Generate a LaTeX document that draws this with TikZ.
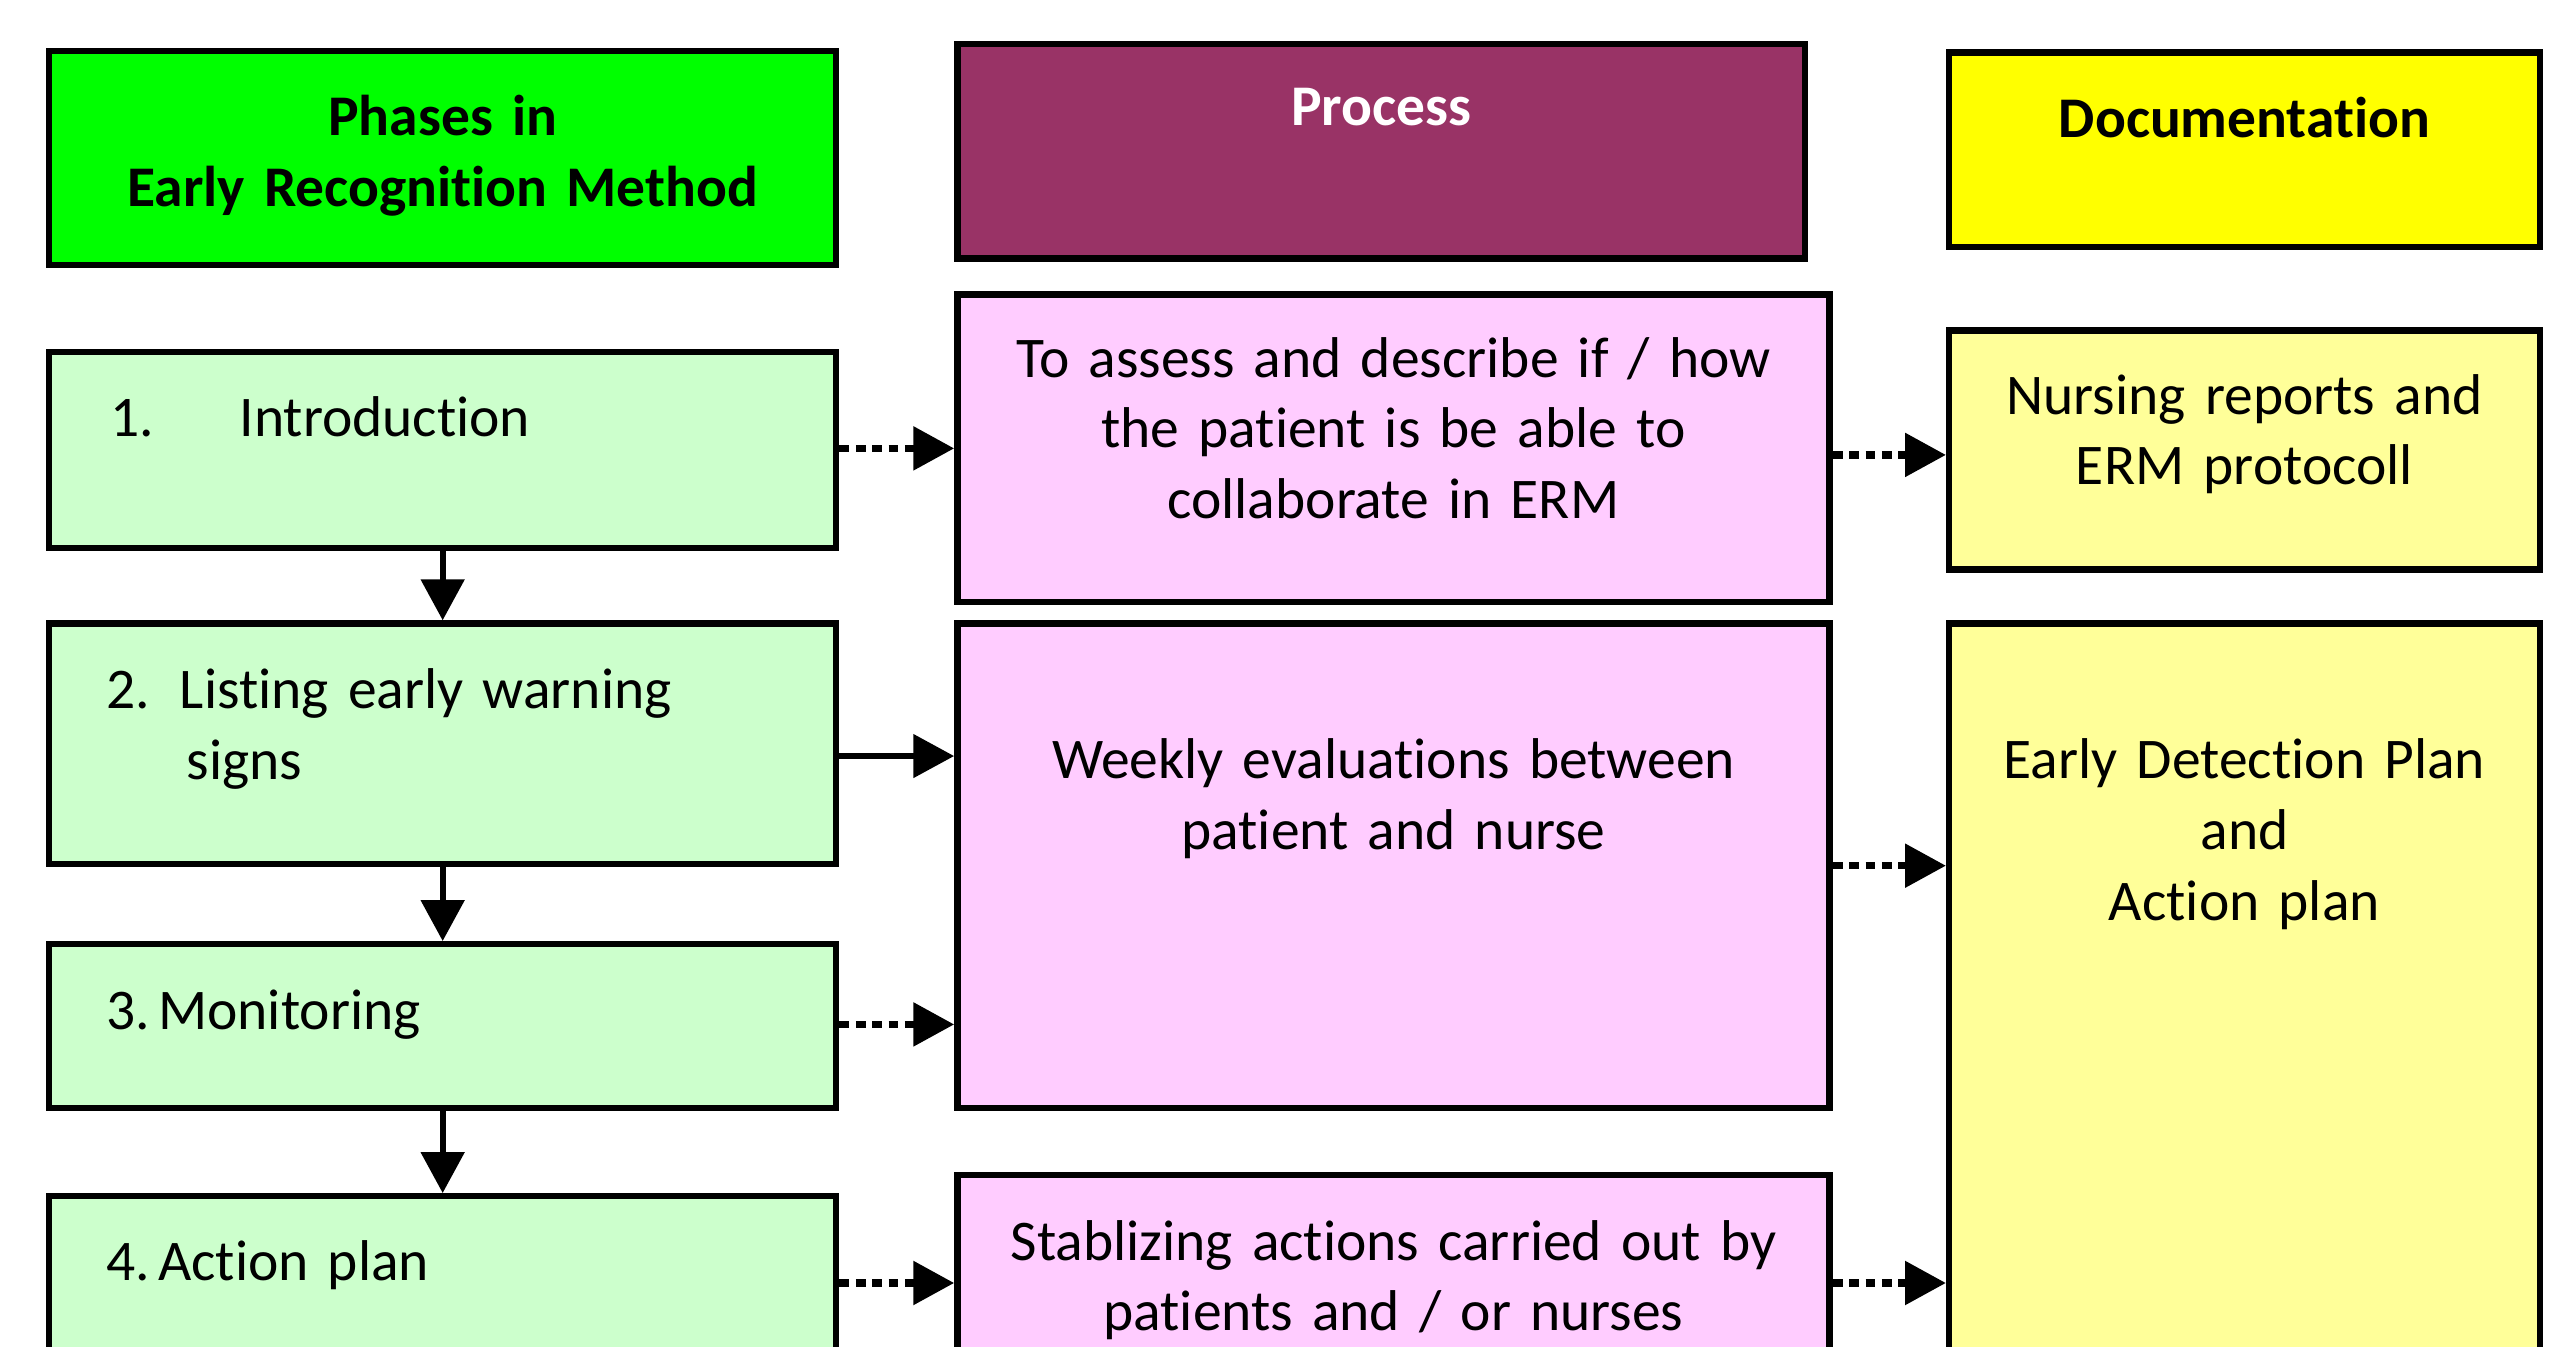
\documentclass[tikz,border=0pt]{standalone}
\usepackage{fontspec}
\setmainfont{Carlito}[Ligatures=NoCommon]
\frenchspacing
\usetikzlibrary{arrows.meta}
\definecolor{headgreen}{HTML}{00FF00}
\definecolor{headplum}{HTML}{993366}
\definecolor{headyellow}{HTML}{FFFF00}
\definecolor{phasegreen}{HTML}{CCFFCC}
\definecolor{procpink}{HTML}{FFCCFF}
\definecolor{docyellow}{HTML}{FFFF99}
\begin{document}
\begin{tikzpicture}[
    box/.style={draw, line width=1.1pt, inner sep=0pt},
    phase/.style={box, fill=phasegreen, minimum width=4.81cm},
    proc/.style={box, fill=procpink, minimum width=5.33cm},
    doc/.style={box, fill=docyellow, minimum width=3.61cm},
    txt/.style={inner sep=0pt, font=\fontsize{10}{12.3}\selectfont, anchor=base, align=center, text width=5cm},
    ltxt/.style={txt, anchor=base west, align=left},
    solidarrow/.style={line width=1.1pt, -{Triangle[length=0.25cm,width=0.26cm]}},
    dotarrow/.style={solidarrow, line width=1.25pt, dash pattern=on 0.06cm off 0.04cm}]
            \useasboundingbox (0,0) rectangle (15.68,8.23);
            \clip (0,0) rectangle (15.68,8.23);
            % column heads
            \node[box, fill=headgreen, minimum width=4.81cm, minimum height=1.31cm] (hphase) at (2.705,7.265) {};
            \node[box, fill=headplum, minimum width=5.18cm, minimum height=1.31cm] (hproc) at (8.44,7.305) {};
            \node[box, fill=headyellow, minimum width=3.61cm, minimum height=1.19cm] (hdoc) at (13.715,7.315) {};
            \node[txt, font=\fontsize{10}{12.3}\selectfont\bfseries] (thphase) at (2.705,7.40) {Phases in\\Early Recognition Method};
            \node[txt, font=\fontsize{10}{12.3}\selectfont\bfseries, text=white] (thproc) at (8.44,7.46) {Process};
            \node[txt, font=\fontsize{10}{12.3}\selectfont\bfseries] (thdoc) at (13.715,7.39) {Documentation};
            % phases
            \node[phase, minimum height=1.20cm] (intro) at (2.705,5.48) {};
            \node[phase, minimum height=1.47cm] (list) at (2.705,3.685) {};
            \node[phase, minimum height=1.00cm] (monit) at (2.705,1.96) {};
            \node[phase, minimum height=1.52cm] (action) at (2.705,0.16) {};
            \node[ltxt] (tintro) at (0.667,5.56) {\makebox[0.79cm][l]{1.}Introduction};
            \node[ltxt] (tlist) at (0.643,3.90) {\makebox[0.45cm][l]{2.}Listing early warning\\\hspace*{0.49cm}signs};
            \node[ltxt] (tmonit) at (0.643,1.94) {3.\hspace{0.05cm}Monitoring};
            \node[ltxt] (taction) at (0.643,0.405) {4.\hspace{0.05cm}Action plan};
            % process
            \node[proc, minimum height=1.88cm] (assess) at (8.515,5.49) {};
            \node[proc, minimum height=2.96cm] (weekly) at (8.515,2.94) {};
            \node[proc, minimum height=1.65cm] (stab) at (8.515,0.225) {};
            \node[txt] (tassess) at (8.515,5.925) {To assess and describe if / how\\the patient is be able to\\collaborate in ERM};
            \node[txt] (tweekly) at (8.515,3.47) {Weekly evaluations between\\patient and nurse};
            \node[txt] (tstab) at (8.515,0.53) {Stablizing actions carried out by\\patients and / or nurses};
            % documentation
            \node[doc, minimum height=1.46cm] (nurs) at (13.715,5.48) {};
            \node[doc, minimum height=5.02cm] (edp) at (13.715,1.91) {};
            \node[txt] (tnurs) at (13.715,5.70) {Nursing reports and\\ERM protocoll};
            \node[txt] (tedp) at (13.715,3.47) {Early Detection Plan\\and\\Action plan};
            % arrows
            \draw[solidarrow] (intro.south) -- (list.north);
            \draw[solidarrow] (list.south) -- (monit.north);
            \draw[solidarrow] (monit.south) -- (action.north);
            \draw[dotarrow] ([yshift=0.01cm]intro.east) -- ([yshift=0.01cm]intro.east -| assess.west);
            \draw[solidarrow] ([yshift=-0.075cm]list.east) -- ([yshift=-0.075cm]list.east -| weekly.west);
            \draw[dotarrow] ([yshift=0.01cm]monit.east) -- ([yshift=0.01cm]monit.east -| weekly.west);
            \draw[dotarrow] ([yshift=0.23cm]action.east) -- ([yshift=0.23cm]action.east -| stab.west);
            \draw[dotarrow] ([yshift=-0.04cm]assess.east) -- ([yshift=-0.04cm]assess.east -| nurs.west);
            \draw[dotarrow] (weekly.east) -- (weekly.east -| edp.west);
            \draw[dotarrow] ([yshift=0.165cm]stab.east) -- ([yshift=0.165cm]stab.east -| edp.west);
\end{tikzpicture}
\end{document}
